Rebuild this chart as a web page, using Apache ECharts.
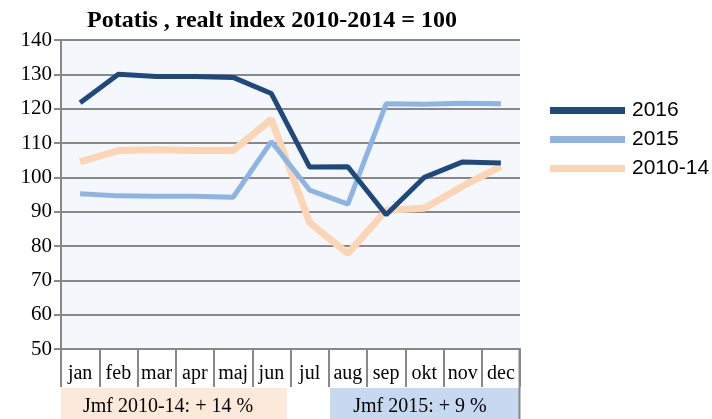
<!DOCTYPE html>
<html>
<head>
<meta charset="utf-8">
<script src="https://cdn.jsdelivr.net/npm/echarts@6/dist/echarts.min.js"></script>
<style>
    html, body { margin: 0; padding: 0; background: #fff; }
    #chart { width: 712px; height: 419px; }
</style>
</head>
<body>
<div id="chart"></div>
<script>
// månader och indexvärden (2010-2014 = 100)
let months = ['jan', 'feb', 'mar', 'apr', 'maj', 'jun', 'jul', 'aug', 'sep', 'okt', 'nov', 'dec'];
let values2016 = [121.7, 130.0, 129.4, 129.4, 129.1, 124.4, 103.0, 103.1, 89.1, 100.0, 104.5, 104.2];
let values2015 = [95.2, 94.6, 94.5, 94.5, 94.2, 110.4, 96.3, 92.2, 121.4, 121.3, 121.6, 121.4];
let values1014 = [104.5, 107.8, 108.0, 107.8, 107.8, 116.9, 86.8, 77.8, 90.4, 91.0, 97.4, 103.2];
let yTicks = {min: 50, max: 140, step: 10};

let chart = echarts.init(document.getElementById('chart'));
let serif = '"Liberation Serif", "Times New Roman", serif';
let gray = '#888888';

let option = {
    animation: false,
    graphic: [
        {
            type: 'text', x: 272, y: 21,
            style: {text: 'Potatis , realt index 2010-2014 = 100', font: 'bold 24px ' + serif, fill: '#000', align: 'center', verticalAlign: 'middle'}
        },
        {type: 'rect', shape: {x: 61, y: 388, width: 226, height: 31}, style: {fill: '#FDE9D9'}},
        {type: 'rect', shape: {x: 330, y: 388, width: 189, height: 31}, style: {fill: '#C6D9F1'}},
        {type: 'line', shape: {x1: 519.5, y1: 349, x2: 519.5, y2: 419}, style: {stroke: gray, lineWidth: 2}},
        {
            type: 'text', x: 168, y: 407,
            style: {text: 'Jmf 2010-14: + 14 %', font: '20px ' + serif, fill: '#000', align: 'center', verticalAlign: 'middle'}
        },
        {
            type: 'text', x: 420, y: 407,
            style: {text: 'Jmf 2015: + 9 %', font: '20px ' + serif, fill: '#000', align: 'center', verticalAlign: 'middle'}
        }
    ],
    legend: {
        orient: 'vertical',
        left: 545,
        top: 95,
        itemWidth: 75,
        itemHeight: 7,
        itemGap: 8,
        icon: 'rect',
        textStyle: {fontFamily: '"Liberation Sans", Arial, sans-serif', fontSize: 21, lineHeight: 21, color: '#000', padding: [0, 0, 0, 2]},
        data: ['2016', '2015', '2010-14']
    },
    grid: {
        left: 61, right: 192, top: 40, bottom: 70,
        show: true, backgroundColor: '#F4F8FC', borderWidth: 0
    },
    xAxis: {
        type: 'category',
        data: months,
        boundaryGap: true,
        axisLine: {lineStyle: {color: gray, width: 2}},
        axisTick: {show: true, interval: 0, length: 38, lineStyle: {color: gray, width: 2}},
        axisLabel: {interval: 0, margin: 15, color: '#000', fontFamily: serif, fontSize: 20}
    },
    yAxis: {
        type: 'value',
        min: yTicks.min,
        max: yTicks.max,
        interval: yTicks.step,
        axisLine: {show: true, lineStyle: {color: gray, width: 2}},
        axisTick: {show: true, length: 7, lineStyle: {color: gray, width: 2}},
        axisLabel: {margin: 9, color: '#000', fontFamily: serif, fontSize: 21},
        splitLine: {lineStyle: {color: gray, width: 2}}
    },
    series: [
        {
            name: '2016', type: 'line', data: values2016, symbol: 'none', z: 4,
            itemStyle: {color: '#1F497D'}, lineStyle: {color: '#1F497D', width: 5}
        },
        {
            name: '2015', type: 'line', data: values2015, symbol: 'none', z: 3,
            itemStyle: {color: '#8DB4E2'}, lineStyle: {color: '#8DB4E2', width: 5}
        },
        {
            name: '2010-14', type: 'line', data: values1014, symbol: 'none', z: 2,
            itemStyle: {color: '#FCD5B5'}, lineStyle: {color: '#FCD5B5', width: 7}
        }
    ]
};
chart.setOption(option);
</script>
</body>
</html>
